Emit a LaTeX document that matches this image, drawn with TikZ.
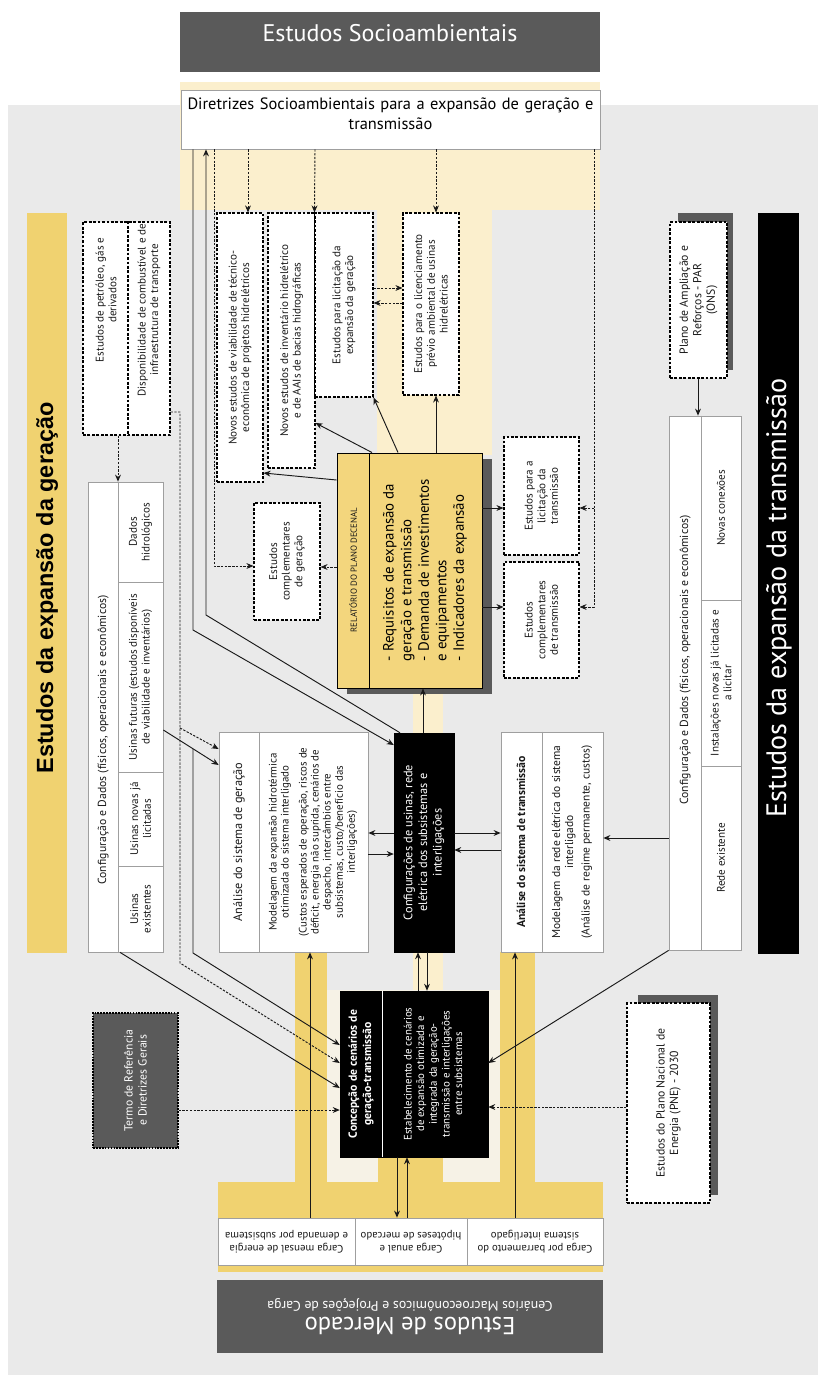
\documentclass[tikz,border=0pt]{standalone}
\usepackage{fontspec}
\setmainfont{PT Sans}
\newfontfamily\titlefont{Liberation Sans}
\usetikzlibrary{arrows.meta, fit, positioning}
\definecolor{bggrey}{RGB}{234,234,234}
\definecolor{palecream}{RGB}{251,239,205}
\definecolor{lightcream}{RGB}{246,242,230}
\definecolor{gold}{RGB}{240,210,112}
\definecolor{relgold}{RGB}{243,214,125}
\definecolor{darkgrey}{RGB}{90,90,90}
\definecolor{inkgrey}{RGB}{25,25,25}
\tikzset{
    plainbox/.style={
        rectangle,
        fill=white,
        draw=gray!75,
        line width=0.6pt,
        inner sep=0pt
    },
    dashbox/.style={
        rectangle,
        fill=white,
        draw=black,
        dash pattern=on 2.4pt off 1.4pt,
        line width=0.9pt,
        inner sep=0pt
    },
    blackbox/.style={rectangle, fill=black, draw=black, inner sep=0pt},
    greybox/.style={rectangle, fill=darkgrey, draw=none, inner sep=0pt},
    boxtext/.style={align=center, inner sep=0pt, text=inkgrey, font=\fontsize{9.5}{10.8}\selectfont},
    uptext/.style={boxtext, rotate=90},
    arrowstyle/.style={->, >={Stealth[length=6pt,width=5pt]}, line width=0.8pt, color=inkgrey},
    dasharrow/.style={arrowstyle, dash pattern=on 2pt off 1.2pt}
}
\begin{document}
\begin{tikzpicture}[x=0.03cm, y=-0.03cm]
      \useasboundingbox (0,0) rectangle (824,1379);
      % backgrounds
      \fill[white] (0,0) rectangle (824,1379);
      \fill[bggrey] (8,105) rectangle (818,1375);
      \fill[palecream] (180,82) rectangle (600,210);
      \fill[palecream] (377,210) rectangle (492,455);
      \fill[palecream] (413,686) rectangle (443,735);
      \fill[palecream] (413,950) rectangle (443,993);
      \fill[lightcream] (327,990) rectangle (500,1182);
      \fill[gold] (295,952) rectangle (327,1182);
      \fill[gold] (500,952) rectangle (535,1182);
      \fill[gold] (378,1157) rectangle (443,1182);
      \fill[gold] (218,1182) rectangle (603,1272);

      % socioambiental studies
      \node[greybox, fit={(180,12) (600,72)}, text=white, font=\fontsize{20.5}{24}\selectfont] (socio) {Estudos Socioambientais};
      \node[plainbox, fit={(181,90) (600,149)}, align=center, font=\fontsize{14}{16.5}\selectfont] (dir) {Diretrizes Socioambientais para a expansão de geração e\\transmissão};

      \node[dashbox, fit={(217,213) (263,482)}] (bviab) {};
      \node[uptext] (bviab-t) at (bviab.center) {Novos estudos de viabilidade de técnico-\\econômica de projetos hidrelétricos};
      \node[dashbox, fit={(268,213) (315,468)}] (binv) {};
      \node[uptext] (binv-t) at (binv.center) {Novos estudos de inventário hidrelétrico\\e de AAIs de bacias hidrográficas};
      \node[dashbox, fit={(315,213) (373,397)}] (blicg) {};
      \node[uptext] (blicg-t) at (blicg.center) {Estudos para licitação da\\expansão da geração};
      \node[dashbox, fit={(403,213) (459,395)}] (blic) {};
      \node[uptext] (blic-t) at (blic.center) {Estudos para o licenciamento\\prévio ambiental de usinas\\hidrelétricas};
      \node[dashbox, fit={(254,503) (320,620)}] (compg) {};
      \node[uptext] (compg-t) at (compg.center) {Estudos\\complementares\\de geração};

      % relatorio
      \fill[darkgrey] (347,459) rectangle (492,694);
      \node[rectangle, fill=relgold, draw=black, line width=0.8pt, inner sep=0pt, fit={(337,453) (482,688)}] (rel) {};
      \draw[line width=0.8pt] (rel.north -| 369,0) -- (rel.south -| 369,0);
      \node[uptext, font=\fontsize{7.5}{9}\selectfont] (rel-t1) at (353,570) {RELATÓRIO DO PLANO DECENAL};
      \node[uptext, align=left, text=black, font=\fontsize{12.7}{15}\selectfont] (rel-t2) at (425,570) {- Requisitos de expansão da\\geração e transmissão\\- Demanda de investimentos\\e equipamentos\\- Indicadores da expansão};

      % transmissao studies
      \node[dashbox, fit={(504,437) (579,555)}] (tlic) {};
      \node[uptext] (tlic-t) at (tlic.center) {Estudos para a\\licitação da\\transmissão};
      \node[dashbox, fit={(504,562) (579,678)}] (tcomp) {};
      \node[uptext] (tcomp-t) at (tcomp.center) {Estudos\\complementares\\de transmissão};

      % title bars
      \node[rectangle, fill=gold, inner sep=0pt, fit={(27,213) (67,953)}] (gtitle) {};
      \node[rotate=90, inner sep=0pt, font=\titlefont\bfseries\fontsize{20}{24}\selectfont] (gtitle-t) at (47,588) {Estudos da expansão da geração};
      \node[blackbox, fit={(758,213) (798,953)}] (ttitle) {};
      \node[rotate=90, inner sep=0pt, text=white, font=\fontsize{24}{28}\selectfont] (ttitle-t) at (779,598) {Estudos da expansão da transmissão};

      % left inputs
      \node[dashbox, fit={(83,222) (170,435)}] (petr) {};
      \draw[black, dash pattern=on 2.4pt off 1.4pt, line width=0.9pt] (petr.north -| 128,0) -- (petr.south -| 128,0);
      \node[uptext] (petr-t1) at (106,300) {Estudos de petróleo, gás e\\derivados};
      \node[uptext] (petr-t2) at (149,310) {Disponibilidade de combustível e de\\infraestrutura de transporte};

      \node[plainbox, fit={(88,482) (163,952)}] (tabg) {};
      \draw[gray!75, line width=0.6pt] (tabg.north -| 118,0) -- (tabg.south -| 118,0);
      \draw[gray!75, line width=0.6pt] (tabg.east |- 0,582) -- (118,582);
      \draw[gray!75, line width=0.6pt] (tabg.east |- 0,772) -- (118,772);
      \draw[gray!75, line width=0.6pt] (tabg.east |- 0,866) -- (118,866);
      \node[uptext, font=\fontsize{10}{12}\selectfont] (tabg-h) at (103,740) {Configuração e Dados (físicos, operacionais e econômicos)};
      \node[uptext] (tabg-c1) at (140.5,532) {Dados\\hidrológicos};
      \node[uptext] (tabg-c2) at (140.5,677) {Usinas futuras (estudos disponíveis\\de viabilidade e inventários)};
      \node[uptext] (tabg-c3) at (140.5,819) {Usinas novas já\\licitadas};
      \node[uptext] (tabg-c4) at (140.5,909) {Usinas\\existentes};

      \node[greybox, draw=black, dash pattern=on 1.5pt off 1pt, line width=1pt, fit={(93,1013) (178,1148)}] (termo) {};
      \node[uptext, text=white, font=\fontsize{10}{12}\selectfont] (termo-t) at (termo.center) {Termo de Referência\\e Diretrizes Gerais};

      % central column
      \node[plainbox, fit={(219,732) (368,952)}] (ager) {};
      \draw[gray!75, line width=0.6pt] (ager.north -| 259,0) -- (ager.south -| 259,0);
      \node[uptext, font=\fontsize{10.5}{12}\selectfont] (ager-t1) at (239,842) {Análise do sistema de geração};
      \node[uptext, font=\fontsize{9.3}{10.3}\selectfont] (ager-t2) at (313,842) {Modelagem da expansão hidrotérmica\\otimizada do sistema interligado\\[5pt](Custos esperados de operação, riscos de\\déficit, energia não suprida, cenários de\\despacho, intercâmbios entre\\subsistemas, custo/benefício das\\interligações)};

      \node[blackbox, fit={(394,733) (454,952)}] (cfg) {};
      \node[uptext, text=white, font=\fontsize{10.5}{12.5}\selectfont] (cfg-t) at (cfg.center) {Configurações de usinas, rede\\elétrica dos subsistemas e\\interligações};

      \node[plainbox, fit={(501,732) (603,952)}] (atrans) {};
      \draw[gray!75, line width=0.6pt] (atrans.north -| 542,0) -- (atrans.south -| 542,0);
      \node[uptext, font=\bfseries\fontsize{10}{12}\selectfont] (atrans-t1) at (521,842) {Análise do sistema de transmissão};
      \node[uptext, font=\fontsize{9.8}{11}\selectfont] (atrans-t2) at (572,842) {Modelagem da rede elétrica do sistema\\interligado\\[3pt](Análise de regime permanente, custos)};

      \node[blackbox, fit={(340,991) (488,1157)}] (conc) {};
      \draw[white, line width=0.6pt] (conc.north -| 382,0) -- (conc.south -| 382,0);
      \node[uptext, text=white, font=\bfseries\fontsize{10}{12}\selectfont] (conc-t1) at (361,1074) {Concepção de cenários de\\geração-transmissão};
      \node[uptext, text=white, font=\fontsize{9.3}{10.8}\selectfont] (conc-t2) at (433,1074) {Estabelecimento de cenários\\de expansão otimizada e\\integrada da geração-\\transmissão e interligações\\entre subsistemas};

      % right inputs
      \fill[darkgrey] (678,213) rectangle (733,370);
      \node[dashbox, fit={(670,222) (727,378)}] (par) {};
      \node[uptext, font=\fontsize{10}{11.5}\selectfont] (par-t) at (par.center) {Plano de Ampliação e\\Reforços - PAR\\(ONS)};

      \node[plainbox, fit={(669,416) (741,950)}] (tabt) {};
      \draw[gray!75, line width=0.6pt] (tabt.north -| 701,0) -- (tabt.south -| 701,0);
      \draw[gray!75, line width=0.6pt] (tabt.east |- 0,600) -- (701,600);
      \draw[gray!75, line width=0.6pt] (tabt.east |- 0,766) -- (701,766);
      \node[uptext, font=\fontsize{10}{12}\selectfont] (tabt-h) at (685,660) {Configuração e Dados (físicos, operacionais e econômicos)};
      \node[uptext] (tabt-c1) at (721,508) {Novas conexões};
      \node[uptext] (tabt-c2) at (721,683) {Instalações novas já licitadas e\\a licitar};
      \node[uptext] (tabt-c3) at (721,858) {Rede existente};

      \fill[darkgrey] (638,995) rectangle (718,1195);
      \node[dashbox, fit={(627,1003) (710,1203)}] (pne) {};
      \node[uptext, font=\fontsize{10}{11.5}\selectfont] (pne-t) at (pne.center) {Estudos do Plano Nacional de\\Energia (PNE) - 2030};

      % market
      \node[plainbox, fit={(218,1218) (355,1265)}] (mk1) {};
      \node[boxtext, rotate=180, font=\fontsize{9.2}{11}\selectfont] (mk1-t) at (mk1.center) {Carga mensal de energia\\e demanda por subsistema};
      \node[plainbox, fit={(355,1218) (467,1265)}] (mk2) {};
      \node[boxtext, rotate=180, font=\fontsize{9.2}{11}\selectfont] (mk2-t) at (mk2.center) {Carga anual e\\hipóteses de mercado};
      \node[plainbox, fit={(467,1218) (603,1265)}] (mk3) {};
      \node[boxtext, rotate=180, font=\fontsize{9.2}{11}\selectfont] (mk3-t) at (mk3.center) {Carga por barramento do\\sistema interligado};
      \node[greybox, fit={(217,1280) (603,1353)}] (merc) {};
      \node[rotate=180, align=center, text=white, inner sep=0pt] (merc-t) at (merc.center) {{\fontsize{21}{24}\selectfont Estudos de Mercado}\\[2pt]{\fontsize{11.8}{14}\selectfont Cenários Macroeconômicos e Projeções de Carga}};

      % connectors from diretrizes
      \draw[dasharrow] (dir.south -| 248,0) -- (bviab.north -| 248,0);
      \draw[dasharrow] (dir.south -| 315,0) -- (blicg.north west);
      \draw[dasharrow] (dir.south -| 436,0) -- (blic.north -| 436,0);
      \draw[dasharrow] (dir.south -| 214,0) |- (compg.west |- 0,566);
      \draw[arrowstyle] (dir.south -| 193,0) -- (193,630) -- (cfg.west |- 0,745);
      \draw[arrowstyle] (cfg.north -| 400,0) -- (206,615) -- (dir.south -| 206,0);
      \draw[dasharrow] (dir.south -| 594,0) |- (tcomp.east |- 0,607);
      \coordinate (tbranch) at (594,508);
      \draw[dasharrow] (tbranch) -- (tlic.east |- 0,508);
      \draw[dasharrow] (blicg.east |- 0,288) -- (blic.west |- 0,288);
      \draw[dasharrow] (blic.west |- 0,303) -- (blicg.east |- 0,303);

      % connectors from relatorio
      \draw[arrowstyle] (rel.west |- 0,480) -- (bviab.east |- 0,473);
      \draw[arrowstyle] (rel.north -| 372,0) -- (binv.east |- 0,423);
      \draw[arrowstyle] (rel.north -| 398,0) -- (blicg.south east);
      \draw[arrowstyle] (rel.north -| 436,0) -- (blic.south -| 436,0);
      \draw[dasharrow] (rel.west |- 0,567) -- (compg.east |- 0,567);
      \draw[arrowstyle] (rel.east |- 0,508) -- (tlic.west |- 0,508);
      \draw[arrowstyle] (rel.east |- 0,607) -- (tcomp.west |- 0,607);
      \draw[arrowstyle] (cfg.north -| 423,0) -- (rel.south -| 423,0);

      % central links
      \draw[arrowstyle] (cfg.west |- 0,833) -- (ager.east |- 0,833);
      \draw[arrowstyle] (ager.east |- 0,854) -- (cfg.west |- 0,854);
      \draw[arrowstyle] (cfg.east |- 0,833) -- (atrans.west |- 0,833);
      \draw[arrowstyle] (atrans.west |- 0,850) -- (cfg.east |- 0,850);
      \draw[arrowstyle] (conc.north -| 418,0) -- (cfg.south -| 418,0);
      \draw[arrowstyle] (cfg.south -| 427,0) -- (conc.north -| 427,0);
      \draw[arrowstyle] (mk1.north -| 310,0) -- (ager.south -| 310,0);
      \draw[arrowstyle] (conc.south -| 397,0) -- (mk2.north -| 397,0);
      \draw[arrowstyle] (mk2.north -| 407,0) -- (conc.south -| 407,0);
      \draw[arrowstyle] (mk3.north -| 515,0) -- (atrans.south -| 515,0);

      % right links
      \draw[arrowstyle] (par.south -| 698,0) -- (tabt.north -| 698,0);
      \draw[arrowstyle] (tabt.west |- 0,838) -- (atrans.east |- 0,838);
      \draw[arrowstyle] (tabt.south west) -- (conc.east |- 0,1063);
      \draw[dasharrow] (pne.west |- 0,1107) -- (conc.east |- 0,1107);

      % left links
      \draw[dasharrow] (termo.east |- 0,1110) -- (conc.west |- 0,1110);
      \draw[dasharrow] (petr.south -| 118,0) -- (tabg.north -| 118,0);
      \draw[dasharrow] (petr.east |- 0,412) -| (180,963) -- (conc.west |- 0,1063);
      \coordinate (pbranch) at (180,728);
      \draw[dasharrow] (pbranch) -- (ager.west |- 0,749);
      \draw[arrowstyle] (tabg.east |- 0,730) -- (ager.west |- 0,765);
      \coordinate (fbranch) at (193,749);
      \draw[arrowstyle] (fbranch) -- (193,953) -- (conc.west |- 0,1045);
      \draw[arrowstyle] (tabg.south -| 120,0) -- (conc.west |- 0,1088);
    \end{tikzpicture}
\end{document}
